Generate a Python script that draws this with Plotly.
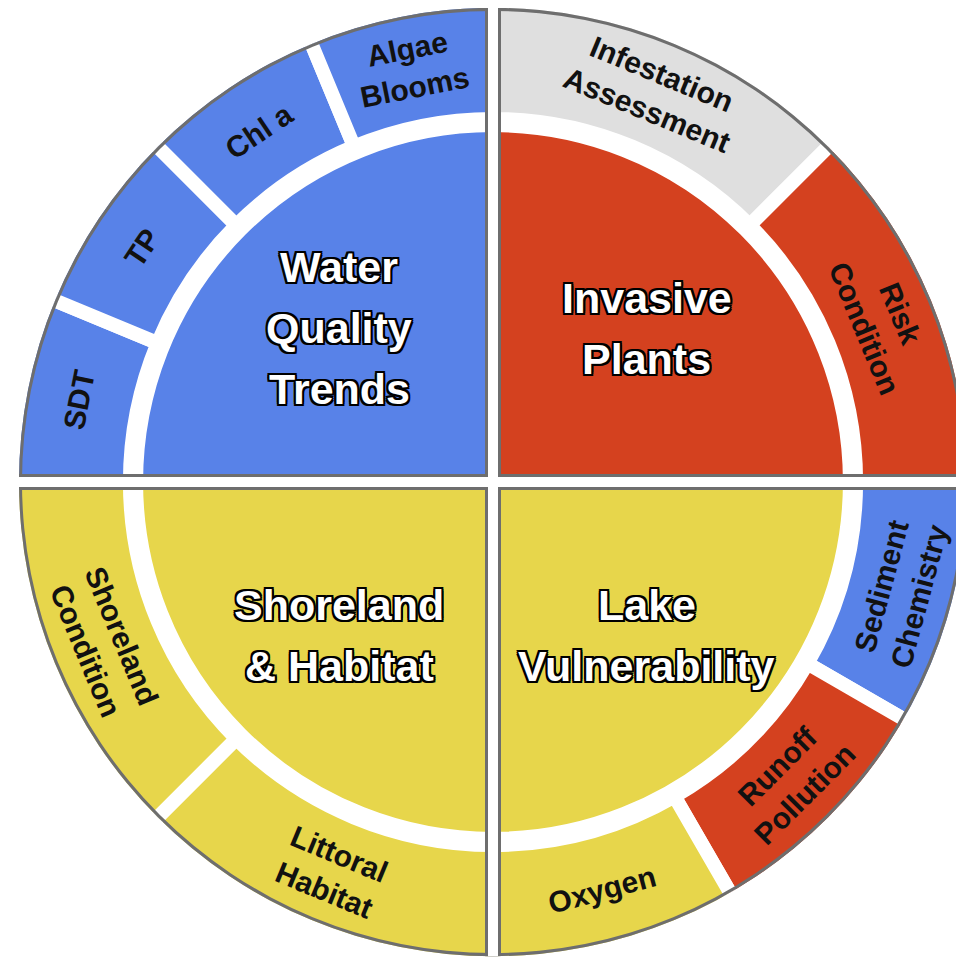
import math
import plotly.graph_objects as go

# ---------------- data ----------------
groups = ["Invasive Plants", "Lake Vulnerability", "Shoreland & Habitat", "Water Quality Trends"]
group_lines = [["Invasive", "Plants"], ["Lake", "Vulnerability"],
               ["Shoreland", "& Habitat"], ["Water", "Quality", "Trends"]]
group_span = [90, 90, 90, 90]
group_colors = ["#D4411F", "#E7D64B", "#E7D64B", "#5882E8"]

sub_labels = ["Infestation<br>Assessment", "Risk<br>Condition",
              "Sediment<br>Chemistry", "Runoff<br>Pollution", "Oxygen",
              "Littoral<br>Habitat", "Shoreland<br>Condition",
              "SDT", "TP", "Chl a", "Algae<br>Blooms"]
sub_parent = ["Invasive Plants", "Invasive Plants",
              "Lake Vulnerability", "Lake Vulnerability", "Lake Vulnerability",
              "Shoreland & Habitat", "Shoreland & Habitat",
              "Water Quality Trends", "Water Quality Trends", "Water Quality Trends", "Water Quality Trends"]
sub_span = [45, 45, 30, 30, 30, 45, 45, 22.5, 22.5, 22.5, 22.5]
sub_colors = ["#DFDFDF", "#D4411F",
              "#5882E8", "#D4411F", "#E7D64B",
              "#E7D64B", "#E7D64B",
              "#5882E8", "#5882E8", "#5882E8", "#5882E8"]

# ---------------- geometry / style ----------------
W, H = 964, 963
PAGE_OFF = 8                     # default body margin of the html page
CX_PX, CY_PX, R_PX = 493 - PAGE_OFF, 482 - PAGE_OFF, 474   # wanted circle (figure px)
DOM_X = [(CX_PX - R_PX) / W, (CX_PX + R_PX) / W]
DOM_Y = [1 - (CY_PX + R_PX) / H, 1 - (CY_PX - R_PX) / H]
R_MAX = 100                      # radial axis max
INNER_R = 75.3                   # inner disc outer radius
RING_BASE = 76.6                 # ring inner radius
RIM_BASE = 99.37                 # grey rim
OVER = 110                       # beyond clip
BORDER = "#6E6E6E"
FONT = "Liberation Sans, Arial, sans-serif"


def centers(spans):
    out, acc = [], 0.0
    for s in spans:
        out.append(acc + s / 2)
        acc += s
    return out


g_theta = centers(group_span)
s_theta = centers(sub_span)

fig = go.Figure()

# inner discs
fig.add_trace(go.Barpolar(
    theta=g_theta, width=group_span, r=[INNER_R] * len(groups), base=0,
    marker=dict(color=group_colors, line=dict(color="white", width=14)),
    hoverinfo="skip", showlegend=False))
# outer ring
fig.add_trace(go.Barpolar(
    theta=s_theta, width=sub_span, r=[OVER - RING_BASE] * len(sub_labels), base=RING_BASE,
    marker=dict(color=sub_colors, line=dict(color="white", width=14)),
    hoverinfo="skip", showlegend=False))
# grey rim
fig.add_trace(go.Barpolar(
    theta=g_theta, width=group_span, r=[OVER - RIM_BASE] * len(groups), base=RIM_BASE,
    marker=dict(color=BORDER, line=dict(width=0)),
    hoverinfo="skip", showlegend=False))
# grey quadrant borders
fig.add_trace(go.Barpolar(
    theta=g_theta, width=group_span, r=[OVER] * len(groups), base=0,
    marker=dict(color="rgba(0,0,0,0)", line=dict(color=BORDER, width=16)),
    hoverinfo="skip", showlegend=False))
# white cross gap
fig.add_trace(go.Barpolar(
    theta=g_theta, width=group_span, r=[OVER] * len(groups), base=0,
    marker=dict(color="rgba(0,0,0,0)", line=dict(color="white", width=10)),
    hoverinfo="skip", showlegend=False))

# ---------------- labels ----------------
CX = CX_PX / W
CY = 1 - CY_PX / H


def to_paper(theta_cw, r):
    phi = math.radians(90 - theta_cw)
    d = r / R_MAX * R_PX
    return CX + d * math.cos(phi) / W, CY + d * math.sin(phi) / H


def tangential(theta_cw):
    phi = 90 - theta_cw
    ang = (90 - phi) if math.sin(math.radians(phi)) >= 0 else (270 - phi)
    ang = (ang + 180) % 360 - 180
    return ang


outline = ", ".join(f"{dx}px {dy}px 0 #000" for dx, dy in
                    [(2, 2), (-2, -2), (2, -2), (-2, 2), (2, 0), (-2, 0), (0, 2), (0, -2)])

annotations = []
LINE_SP = 61
for lines, th in zip(group_lines, g_theta):
    x, y = to_paper(th, 45.8)
    n = len(lines)
    for i, ln in enumerate(lines):
        annotations.append(dict(
            x=x, y=y, xref="paper", yref="paper", text=ln, showarrow=False,
            xanchor="center", yanchor="middle",
            yshift=(n - 1) / 2 * LINE_SP - i * LINE_SP,
            font=dict(family=FONT, size=43, color="white", weight="bold", shadow=outline)))

for lab, th in zip(sub_labels, s_theta):
    x, y = to_paper(th, 89.0)
    annotations.append(dict(
        x=x, y=y, xref="paper", yref="paper", text=lab, showarrow=False,
        xanchor="center", yanchor="middle", align="center",
        textangle=tangential(th),
        font=dict(family=FONT, size=30, color="#111111", weight="bold")))

fig.update_layout(
    width=W, height=H, margin=dict(l=0, r=0, t=0, b=0),
    paper_bgcolor="white", plot_bgcolor="white",
    polar=dict(
        domain=dict(x=DOM_X, y=DOM_Y),
        bgcolor="white", barmode="overlay", bargap=0, hole=0,
        angularaxis=dict(direction="clockwise", rotation=90, visible=False,
                         showgrid=False, showline=False, showticklabels=False, ticks=""),
        radialaxis=dict(range=[0, R_MAX], visible=False, showgrid=False,
                        showline=False, showticklabels=False, ticks=""),
    ),
    annotations=annotations,
    showlegend=False,
)

fig.write_html("out.html")
